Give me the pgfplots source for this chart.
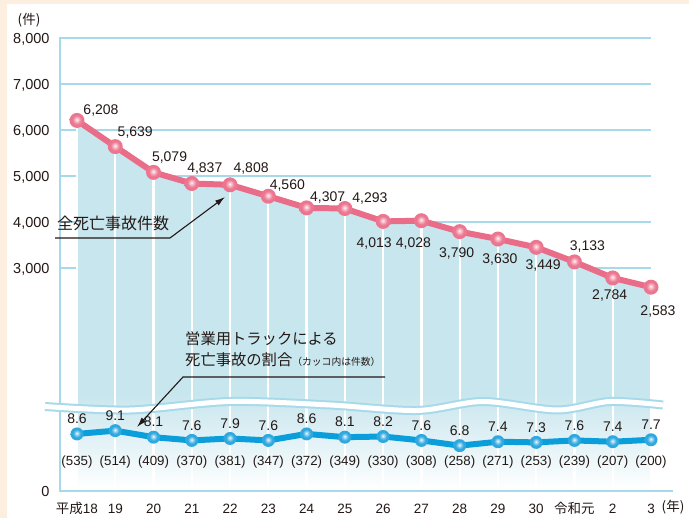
\documentclass[border=0pt]{standalone}
\usepackage{pgfplots}
\pgfplotsset{compat=1.18}
\usepackage{pgfplotstable}
\usetikzlibrary{arrows.meta}
\usepackage{fontspec}
\setmainfont{Liberation Sans}
\newfontfamily\jp{Noto Sans CJK JP}

\definecolor{cream}{HTML}{FCEFDF}
\definecolor{textc}{HTML}{231815}
\definecolor{gridc}{HTML}{A6DAEB}
\definecolor{fillc}{HTML}{C8E6EE}
\definecolor{pinkc}{HTML}{E96D89}
\definecolor{pinkm}{HTML}{EC7590}
\definecolor{bluec}{HTML}{0A9FDB}
\definecolor{bluem}{HTML}{2EA8DF}

\pgfdeclareverticalshading{areashade}{100bp}{color(0bp)=(white); color(25bp)=(white); color(30bp)=(fillc!40!white); color(38bp)=(fillc); color(100bp)=(fillc)}
\pgfdeclareradialshading{pinkballshade}{\pgfpoint{-1bp}{3bp}}{color(0bp)=(white); color(3bp)=(pinkm!30!white); color(15bp)=(pinkm); color(25bp)=(pinkm); color(50bp)=(pinkm)}
\pgfdeclareradialshading{blueballshade}{\pgfpoint{-1bp}{3bp}}{color(0bp)=(white); color(3bp)=(bluem!30!white); color(15bp)=(bluem); color(25bp)=(bluem); color(50bp)=(bluem)}
\pgfdeclareplotmark{pinkball}{\pgfpathcircle{\pgfpointorigin}{\pgfplotmarksize}\pgfshadepath{pinkballshade}{0}\pgfusepath{discard}}
\pgfdeclareplotmark{blueball}{\pgfpathcircle{\pgfpointorigin}{\pgfplotmarksize}\pgfshadepath{blueballshade}{0}\pgfusepath{discard}}

\pgfplotstableread{
x y dx dy
0 6208 24 10
1 5639 20 14
2 5079 16 15
3 4837 13 15
4 4808 21 16
5 4560 19 11
6 4307 21 10
7 4293 25 10
8 4013 -9 -22
9 4028 -8 -23
10 3790 -3 -22
11 3630 2 -20
12 3449 7 -18
13 3133 13 15
14 2784 -3 -18
15 2583 7 -24
}\totaltable

\pgfplotstableread{
x pct count
0 8.6 (535)
1 9.1 (514)
2 8.1 (409)
3 7.6 (370)
4 7.9 (381)
5 7.6 (347)
6 8.6 (372)
7 8.1 (349)
8 8.2 (330)
9 7.6 (308)
10 6.8 (258)
11 7.4 (271)
12 7.3 (253)
13 7.6 (239)
14 7.4 (207)
15 7.7 (200)
}\truckt

\begin{document}
\begin{tikzpicture}
\fill[cream] (0,0) rectangle (689bp,518bp);
\fill[white] (7bp,0) rectangle (689bp,514bp);

\begin{axis}[
  at={(60bp,28bp)}, anchor=south west, scale only axis,
  width=591bp, height=452bp,
  xmin=-0.444, xmax=15, ymin=-1826, ymax=8000,
  axis line style={draw=none},
  major tick length=0pt,
  ytick={3000,4000,5000,6000,7000,8000},
  extra y ticks={-1826}, extra y tick labels={0},
  extra y tick style={grid=none},
  ymajorgrids, grid style={gridc, line width=1.8bp},
  xtick={0,...,15},
  xticklabels={{\jp 平成}18\hspace{12bp},19,20,21,22,23,24,25,26,27,28,29,30,{\jp 令和元},2,3},
  yticklabel style={font=\fontsize{14.5bp}{16bp}\selectfont, text=textc, anchor=base east, xshift=-7bp, yshift=-6bp},
  xticklabel style={font=\fontsize{13.5bp}{16bp}\selectfont, text=textc, anchor=base, yshift=-23bp},
  /pgf/number format/1000 sep={,},
  /pgf/number format/assume math mode=true,
  clip=false,
]
\addplot[draw=none, shade, shading=areashade, forget plot] coordinates {
(0,-1826) (0,6208) (1,5639) (2,5079) (3,4837) (4,4808) (5,4560) (6,4307) (7,4293)
(8,4013) (9,4028) (10,3790) (11,3630) (12,3449) (13,3133) (14,2784) (15,2583) (15,-1826)} -- cycle;
\addplot[white, line width=2.2bp, unbounded coords=jump, forget plot] coordinates {
(0,-1826) (0,6208) (0,nan) (1,-1826) (1,5639) (1,nan) (2,-1826) (2,5079) (2,nan)
(3,-1826) (3,4837) (3,nan) (4,-1826) (4,4808) (4,nan) (5,-1826) (5,4560) (5,nan)
(6,-1826) (6,4307) (6,nan) (7,-1826) (7,4293) (7,nan) (8,-1826) (8,4013) (8,nan)
(9,-1826) (9,4028) (9,nan) (10,-1826) (10,3790) (10,nan) (11,-1826) (11,3630) (11,nan)
(12,-1826) (12,3449) (12,nan) (13,-1826) (13,3133) (13,nan) (14,-1826) (14,2784) (14,nan)
(15,-1826) (15,2583)};
\addplot[pinkc, line width=6bp, line join=round, mark=pinkball, mark size=7.5bp,
  nodes near coords,
  visualization depends on={\thisrow{dx}\as\labdx},
  visualization depends on={\thisrow{dy}\as\labdy},
  every node near coord/.append style={anchor=center, xshift=\labdx*1bp, yshift=\labdy*1bp,
     font=\fontsize{14bp}{16bp}\selectfont, text=textc}]
  table[x=x, y=y] {\totaltable};
\end{axis}

\begin{scope}[x=1bp, y=-1bp, shift={(0bp,518bp)}]
\draw[gridc, line width=2bp] (60,37) -- (60,491);
\draw[gridc, line width=2bp] (59,491) -- (673,491);
\draw[gridc, line width=9bp] plot[smooth] coordinates {(45,406.5) (130,410) (230,401.5) (330,405) (417,410.5) (483,401.5) (557,410) (610,401.5) (663,405)};
\draw[white, line width=5bp] plot[smooth] coordinates {(45,406.5) (130,410) (230,401.5) (330,405) (417,410.5) (483,401.5) (557,410) (610,401.5) (663,405)};
\end{scope}

\begin{axis}[
  at={(60bp,28bp)}, anchor=south west, scale only axis,
  width=591bp, height=452bp,
  xmin=-0.444, xmax=15, ymin=0, ymax=69.3,
  hide axis, clip=false,
  /pgf/number format/assume math mode=true,
]
\addplot[bluec, line width=6bp, line join=round, mark=blueball, mark size=6.5bp,
  nodes near coords,
  nodes near coords style={/pgf/number format/fixed, /pgf/number format/precision=1, /pgf/number format/fixed zerofill},
  every node near coord/.append style={anchor=center, yshift=15bp,
     font=\fontsize{14bp}{16bp}\selectfont, text=textc}]
  table[x=x, y=pct] {\truckt};
\addplot[draw=none, mark=none,
  point meta=explicit symbolic,
  nodes near coords,
  visualization depends on={\thisrow{pct}\as\pctv},
  every node near coord/.append style={anchor=center, yshift={28bp-6.522*\pctv*1bp},
     font=\fontsize{13.3bp}{16bp}\selectfont, text=textc}]
  table[x=x, y=pct, meta=count] {\truckt};
\end{axis}

\begin{scope}[x=1bp, y=-1bp, shift={(0bp,518bp)}]
\draw[textc, line width=1.1bp, -{Latex[length=10bp,width=6bp]}] (55,238) -- (170,238) -- (225,197);
\draw[textc, line width=1.1bp, -{Latex[length=10bp,width=6bp]}] (385,377) -- (183,377) -- (137,427);
\node[anchor=west, inner sep=0, text=textc, font=\jp\fontsize{16bp}{18bp}\selectfont] at (57,223) {全死亡事故件数};
\node[anchor=west, inner sep=0, text=textc, font=\jp\fontsize{15.3bp}{18bp}\selectfont] at (185,339) {営業用トラックによる};
\node[anchor=west, inner sep=0, text=textc, font=\jp\fontsize{15.3bp}{18bp}\selectfont] at (185,360) {死亡事故の割合{\fontsize{9.8bp}{12bp}\selectfont （カッコ内は件数）}};
\node[inner sep=0, text=textc, font=\jp\fontsize{13.5bp}{16bp}\selectfont] at (29,20) {(件)};
\node[inner sep=0, text=textc, font=\jp\fontsize{13.5bp}{16bp}\selectfont] at (673,507) {(年)};
\end{scope}

\pgfresetboundingbox
\useasboundingbox (0,0) rectangle (689bp,518bp);
\end{tikzpicture}
\end{document}
